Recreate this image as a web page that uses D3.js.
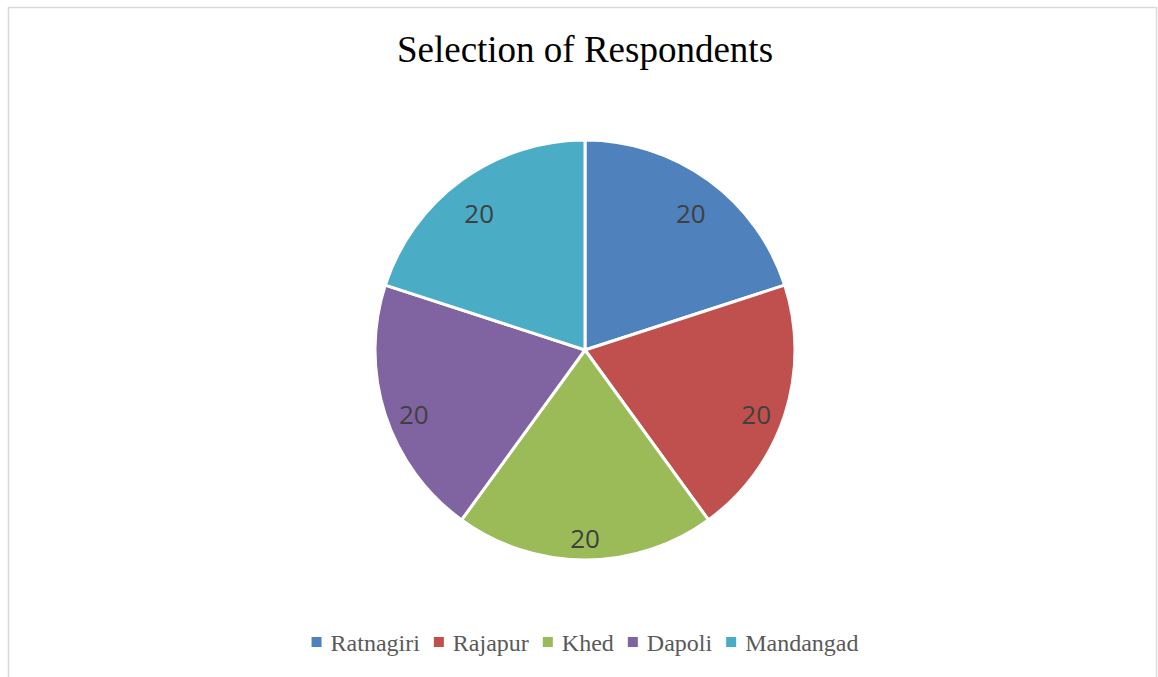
<!DOCTYPE html>
<html>
<head>
<meta charset="utf-8">
<script src="https://cdn.jsdelivr.net/npm/d3@7"></script>
<style>
  html, body { margin: 0; padding: 0; background: #fff; }
  svg { display: block; }
</style>
</head>
<body>
<svg id="chart" width="1158" height="677"></svg>
<script>
const categories = ["Ratnagiri", "Rajapur", "Khed", "Dapoli", "Mandangad"];
const values = [20, 20, 20, 20, 20];
const colors = ["#4F81BD", "#C0504D", "#9BBB59", "#8064A2", "#4BACC6"];
const title = "Selection of Respondents";

const svg = d3.select("#chart");
const W = 1158, H = 677;

// chart border
svg.append("rect")
  .attr("x", 8.5).attr("y", 7.5)
  .attr("width", W - 10).attr("height", H)
  .attr("fill", "#fff")
  .attr("stroke", "#d9d9d9").attr("stroke-width", 1.5);

// title
svg.append("text")
  .attr("x", 585).attr("y", 62)
  .attr("text-anchor", "middle")
  .attr("font-family", "'Liberation Serif', 'Times New Roman', serif")
  .attr("font-size", 37)
  .attr("fill", "#000")
  .text(title);

const data = categories.map((c, i) => ({ name: c, value: values[i], color: colors[i] }));
const cx = 585, cy = 350, R = 210;

const pie = d3.pie().sort(null).value(d => d.value);
const arc = d3.arc().innerRadius(0).outerRadius(R);
const labelArc = d3.arc().innerRadius(180).outerRadius(180);

const g = svg.append("g").attr("transform", `translate(${cx},${cy})`);
const arcs = pie(data);

g.selectAll("path.slice")
  .data(arcs)
  .join("path")
  .attr("class", "slice")
  .attr("d", arc)
  .attr("fill", d => d.data.color)
  .attr("stroke", "#fff")
  .attr("stroke-width", 3)
  .attr("stroke-linejoin", "round");

g.selectAll("text.lbl")
  .data(arcs)
  .join("text")
  .attr("class", "lbl")
  .attr("transform", d => { const c = labelArc.centroid(d); return `translate(${c[0]},${c[1] + 9})`; })
  .attr("text-anchor", "middle")
  .attr("dy", "0.36em")
  .attr("font-family", "'Open Sans', Calibri, sans-serif")
  .attr("font-size", 26)
  .attr("fill", "#404040")
  .text(d => d.data.value);

// legend
const legend = svg.append("g");
const fontSize = 24;
const markerSize = 10, markerGap = 9, itemGap = 14;
const items = legend.selectAll("g.item")
  .data(data)
  .join("g")
  .attr("class", "item");

items.append("rect")
  .attr("width", markerSize).attr("height", markerSize)
  .attr("y", -14)
  .attr("fill", d => d.color);

items.append("text")
  .attr("x", markerSize + markerGap)
  .attr("font-family", "'Liberation Serif', 'Times New Roman', serif")
  .attr("font-size", fontSize)
  .attr("fill", "#595959")
  .text(d => d.name);

let x = 0;
const widths = [];
items.each(function () {
  const w = this.querySelector("text").getComputedTextLength() + markerSize + markerGap;
  widths.push(w);
});
const total = d3.sum(widths) + itemGap * (widths.length - 1);
x = 585 - total / 2;
items.attr("transform", (d, i) => {
  const t = `translate(${x},651)`;
  x += widths[i] + itemGap;
  return t;
});
</script>
</body>
</html>
